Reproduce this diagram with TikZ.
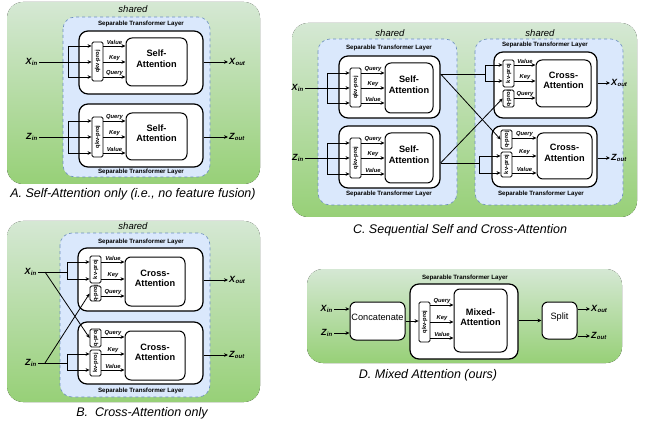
\documentclass[tikz,border=0pt]{standalone}
\usepackage{fontspec}
\setmainfont{Liberation Sans}
\usetikzlibrary{arrows.meta,fit}
\definecolor{gtop}{HTML}{D5E8D4}
\definecolor{gbot}{HTML}{97D077}
\definecolor{bfill}{HTML}{DAE8FC}
\definecolor{bdraw}{HTML}{6C8EBF}
\newcommand\xlab[2]{\textbf{\textit{#1}}\textsubscript{\textbf{\textit{#2}}}}
\tikzset{
  greenpanel/.style={rounded corners=16pt, top color=gtop, bottom color=gbot, draw=none},
  bluepanel/.style={rounded corners=12pt, fill=bfill, draw=bdraw, dashed, line width=0.6pt},
  layerbox/.style={draw, fill=white, line width=1.2pt, rounded corners=9pt, inner sep=0pt},
  attbox/.style={draw, fill=white, line width=1pt, rounded corners=6pt, inner sep=0pt, align=center, font=\bfseries\fontsize{9.2}{10.8}\selectfont},
  plainbox/.style={draw, fill=white, line width=1pt, rounded corners=6pt, inner sep=0pt, align=center, font=\fontsize{9.2}{10.8}\selectfont},
  projbox/.style={draw, fill=white, line width=0.8pt, rounded corners=1.5pt, inner sep=0pt},
  projtxt/.style={rotate=90, font=\bfseries\fontsize{5.8}{6}\selectfont, inner sep=0pt},
  arr/.style={-{Stealth[length=4pt,width=3.6pt]}, line width=0.8pt},
  ln/.style={line width=0.8pt},
  qkv/.style={font=\bfseries\itshape\fontsize{5.8}{6}\selectfont, inner sep=0.6pt, above},
  layertxt/.style={font=\bfseries\fontsize{6.2}{7}\selectfont, inner sep=0pt},
  sharedtxt/.style={font=\itshape\fontsize{9.5}{11}\selectfont, inner sep=0pt},
  captxt/.style={font=\itshape\fontsize{12.5}{14}\selectfont, inner sep=0pt},
  iolab/.style={font=\fontsize{9}{10}\selectfont, inner sep=1pt},
}
\begin{document}
\begin{tikzpicture}[x=1pt,y=-1pt]
\useasboundingbox (0,0) rectangle (645,422);

%%%%%%%%%%%%%%%% Panel A
\fill[greenpanel] (7,2) rectangle (260,184);
\node[sharedtxt] (shA) at (133,9) {shared};
\draw[bluepanel] (63,17) rectangle (210,177);
\node[layertxt] (ltA1) at (141,24) {Separable Transformer Layer};
\node[layertxt] (ltA2) at (141,172) {Separable Transformer Layer};
\node[layerbox, fit={(79,31)(203,94)}] (LA1) {};
\node[layerbox, fit={(79,104)(203,167)}] (LA2) {};
% upper
\node[projbox, fit={(92,42)(103,81)}, label={[projtxt]center:qkv-proj}] (PA1) {};
\node[attbox, fit={(126,38)(187,86)}] (AA1) {Self-\\Attention};
\draw[arr] (PA1.east |- 0,46) -- node[qkv]{Value} (AA1.west |- 0,46);
\draw[arr] (PA1.east |- 0,62) -- node[qkv]{Key} (AA1.west |- 0,62);
\draw[arr] (PA1.east |- 0,77) -- node[qkv]{Query} (AA1.west |- 0,77);
\node[iolab, anchor=east] (XA) at (39,62) {\xlab{X}{in}};
\coordinate (bXA) at (68,62);
\draw[arr] (XA.east) -- (PA1.west |- XA.east);
\draw[arr] (bXA) |- (PA1.west |- 0,46);
\draw[arr] (bXA) |- (PA1.west |- 0,77);
\node[iolab, anchor=west] (XoA) at (228,62) {\xlab{X}{out}};
\draw[arr] (LA1.east |- XoA.west) -- (XoA.west);
% lower
\node[projbox, fit={(92,117)(103,157)}, label={[projtxt]center:qkv-proj}] (PA2) {};
\node[attbox, fit={(126,113)(187,160)}] (AA2) {Self-\\Attention};
\draw[arr] (PA2.east |- 0,121) -- node[qkv]{Query} (AA2.west |- 0,121);
\draw[arr] (PA2.east |- 0,137) -- node[qkv]{Key} (AA2.west |- 0,137);
\draw[arr] (PA2.east |- 0,153) -- node[qkv]{Value} (AA2.west |- 0,153);
\node[iolab, anchor=east] (ZA) at (39,137) {\xlab{Z}{in}};
\coordinate (bZA) at (68,137);
\draw[arr] (ZA.east) -- (PA2.west |- ZA.east);
\draw[arr] (bZA) |- (PA2.west |- 0,121);
\draw[arr] (bZA) |- (PA2.west |- 0,153);
\node[iolab, anchor=west] (ZoA) at (228,137) {\xlab{Z}{out}};
\draw[arr] (LA2.east |- ZoA.west) -- (ZoA.west);
\node[captxt] (capA) at (133,194) {A. Self-Attention only (i.e., no feature fusion)};

%%%%%%%%%%%%%%%% Panel B
\fill[greenpanel] (7,221) rectangle (260,402);
\node[sharedtxt] (shB) at (133,226) {shared};
\draw[bluepanel] (60,233) rectangle (210,397);
\node[layertxt] (ltB1) at (141,242) {Separable Transformer Layer};
\node[layertxt] (ltB2) at (141,391) {Separable Transformer Layer};
\node[layerbox, fit={(78,248)(203,311)}] (LB1) {};
\node[layerbox, fit={(78,322)(203,384)}] (LB2) {};
% upper
\node[projbox, fit={(90,256)(101,283)}, label={[projtxt]center:kv-proj}] (KVB1) {};
\node[projbox, fit={(90,286)(101,301)}, label={[projtxt]center:q-proj}] (QB1) {};
\node[attbox, fit={(125,257)(185,306)}] (AB1) {Cross-\\Attention};
\draw[arr] (KVB1.east |- 0,262) -- node[qkv]{Value} (AB1.west |- 0,262);
\draw[arr] (KVB1.east |- 0,279) -- node[qkv]{Key} (AB1.west |- 0,279);
\draw[arr] (QB1.east |- 0,296) -- node[qkv]{Query} (AB1.west |- 0,296);
% lower
\node[projbox, fit={(90,329)(101,347)}, label={[projtxt]center:q-proj}] (QB2) {};
\node[projbox, fit={(90,350)(101,376)}, label={[projtxt]center:kv-proj}] (KVB2) {};
\node[attbox, fit={(125,331)(185,380)}] (AB2) {Cross-\\Attention};
\draw[arr] (QB2.east |- 0,337) -- node[qkv]{Query} (AB2.west |- 0,337);
\draw[arr] (KVB2.east |- 0,354) -- node[qkv]{Key} (AB2.west |- 0,354);
\draw[arr] (KVB2.east |- 0,370) -- node[qkv]{Value} (AB2.west |- 0,370);
% inputs
\node[iolab, anchor=east] (XB) at (38,272) {\xlab{X}{in}};
\coordinate (jXB) at (45,272);
\coordinate (bXB) at (67,272);
\draw[ln] (XB.east) -- (bXB);
\draw[arr] (bXB) |- (KVB1.west |- 0,262);
\draw[arr] (bXB) |- (KVB1.west |- 0,279);
\draw[arr] (jXB) -- (QB2.west);
\node[iolab, anchor=east] (ZB) at (38,363) {\xlab{Z}{in}};
\coordinate (jZB) at (45,363);
\coordinate (bZB) at (67,363);
\draw[ln] (ZB.east) -- (bZB);
\draw[arr] (bZB) |- (KVB2.west |- 0,354);
\draw[arr] (bZB) |- (KVB2.west |- 0,370);
\draw[arr] (jZB) -- (QB1.west);
\node[iolab, anchor=west] (XoB) at (228,280) {\xlab{X}{out}};
\draw[arr] (LB1.east |- XoB.west) -- (XoB.west);
\node[iolab, anchor=west] (ZoB) at (228,355) {\xlab{Z}{out}};
\draw[arr] (LB2.east |- ZoB.west) -- (ZoB.west);
\node[captxt] (capB) at (142,413) {B.\ \ Cross-Attention only};

%%%%%%%%%%%%%%%% Panel C
\fill[greenpanel] (292,23) rectangle (637,217);
\node[sharedtxt] (shC1) at (390,33) {shared};
\node[sharedtxt] (shC2) at (540,33) {shared};
\draw[bluepanel] (318,39) rectangle (457,205);
\draw[bluepanel] (475,39) rectangle (623,205);
\node[layertxt] (ltC1) at (389,48) {Separable Transformer Layer};
\node[layertxt] (ltC2) at (389,194) {Separable Transformer Layer};
\node[layertxt] (ltC3) at (545,45) {Separable Transformer Layer};
\node[layertxt] (ltC4) at (541,194) {Separable Transformer Layer};
\node[layerbox, fit={(339,56)(440,118)}] (LC1) {};
\node[layerbox, fit={(339,126)(440,188)}] (LC2) {};
\node[layerbox, fit={(494,52)(597,118)}] (RC1) {};
\node[layerbox, fit={(492,126)(597,187)}] (RC2) {};
% left upper
\node[projbox, fit={(350,68)(361,107)}, label={[projtxt]center:qkv-proj}] (PC1) {};
\node[attbox, fit={(385,63)(433,113)}] (AC1) {Self-\\Attention};
\draw[arr] (PC1.east |- 0,73) -- node[qkv]{Query} (AC1.west |- 0,73);
\draw[arr] (PC1.east |- 0,88) -- node[qkv]{Key} (AC1.west |- 0,88);
\draw[arr] (PC1.east |- 0,103) -- node[qkv]{Value} (AC1.west |- 0,103);
\node[iolab, anchor=east] (XC) at (305,88) {\xlab{X}{in}};
\coordinate (bXC) at (327,88);
\draw[arr] (XC.east) -- (PC1.west |- XC.east);
\draw[arr] (bXC) |- (PC1.west |- 0,73);
\draw[arr] (bXC) |- (PC1.west |- 0,103);
% left lower
\node[projbox, fit={(350,138)(361,178)}, label={[projtxt]center:qkv-proj}] (PC2) {};
\node[attbox, fit={(385,133)(433,183)}] (AC2) {Self-\\Attention};
\draw[arr] (PC2.east |- 0,143) -- node[qkv]{Query} (AC2.west |- 0,143);
\draw[arr] (PC2.east |- 0,158) -- node[qkv]{Key} (AC2.west |- 0,158);
\draw[arr] (PC2.east |- 0,174) -- node[qkv]{Value} (AC2.west |- 0,174);
\node[iolab, anchor=east] (ZC) at (305,158) {\xlab{Z}{in}};
\coordinate (bZC) at (327,158);
\draw[arr] (ZC.east) -- (PC2.west |- ZC.east);
\draw[arr] (bZC) |- (PC2.west |- 0,143);
\draw[arr] (bZC) |- (PC2.west |- 0,174);
% right upper
\node[projbox, fit={(503,60)(514,87)}, label={[projtxt]center:kv-proj}] (KVC1) {};
\node[projbox, fit={(503,90)(514,107)}, label={[projtxt]center:q-proj}] (QC1) {};
\node[attbox, fit={(536,60)(591,107)}] (CC1) {Cross-\\Attention};
\draw[arr] (KVC1.east |- 0,65) -- node[qkv]{Value} (CC1.west |- 0,65);
\draw[arr] (KVC1.east |- 0,81) -- node[qkv]{Key} (CC1.west |- 0,81);
\draw[arr] (QC1.east |- 0,98) -- node[qkv]{Query} (CC1.west |- 0,98);
% right lower
\node[projbox, fit={(501,130)(512,149)}, label={[projtxt]center:q-proj}] (QC2) {};
\node[projbox, fit={(501,152)(512,177)}, label={[projtxt]center:kv-proj}] (KVC2) {};
\node[attbox, fit={(537,133)(592,179)}] (CC2) {Cross-\\Attention};
\draw[arr] (QC2.east |- 0,138) -- node[qkv]{Query} (CC2.west |- 0,138);
\draw[arr] (KVC2.east |- 0,156) -- node[qkv]{Key} (CC2.west |- 0,156);
\draw[arr] (KVC2.east |- 0,173) -- node[qkv]{Value} (CC2.west |- 0,173);
% cross connections
\coordinate (oC1) at (LC1.east |- 0,74);
\coordinate (oC2) at (LC2.east |- 0,163);
\coordinate (bC1) at (485,74);
\coordinate (bC2) at (479,163);
\draw[ln] (oC1) -- (bC1);
\draw[arr] (bC1) |- (KVC1.west |- 0,65);
\draw[arr] (bC1) |- (KVC1.west |- 0,81);
\draw[arr] (oC1) -- (QC2.west);
\draw[arr] (oC2) -- (QC1.west);
\draw[ln] (oC2) -- (bC2);
\draw[arr] (bC2) |- (KVC2.west |- 0,156);
\draw[arr] (bC2) |- (KVC2.west |- 0,173);
\node[iolab, anchor=west] (XoC) at (610,83) {\xlab{X}{out}};
\draw[arr] (RC1.east |- XoC.west) -- (XoC.west);
\node[iolab, anchor=west] (ZoC) at (610,158) {\xlab{Z}{out}};
\draw[arr] (RC2.east |- ZoC.west) -- (ZoC.west);
\node[captxt] (capC) at (460,230) {C. Sequential Self and Cross-Attention};

%%%%%%%%%%%%%%%% Panel D
\fill[greenpanel] (307,269) rectangle (622,363);
\node[layertxt] (ltD) at (465,278) {Separable Transformer Layer};
\node[layerbox, fit={(410,284)(518,359)}] (LD) {};
\node[plainbox, fit={(350,302)(405,340)}] (CD) {Concatenate};
\node[plainbox, fit={(542,302)(577,339)}] (SD) {Split};
\node[projbox, fit={(419,302)(430,342)}, label={[projtxt]center:qkv-proj}] (PD) {};
\node[attbox, fit={(454,289)(507,352)}] (AD) {Mixed-\\Attention};
\draw[arr] (PD.east |- 0,305) -- node[qkv]{Query} (AD.west |- 0,305);
\draw[arr] (PD.east |- 0,322) -- node[qkv]{Key} (AD.west |- 0,322);
\draw[arr] (PD.east |- 0,338) -- node[qkv]{Value} (AD.west |- 0,338);
\node[iolab, anchor=east] (XD) at (334,309) {\xlab{X}{in}};
\node[iolab, anchor=east] (ZD) at (334,333) {\xlab{Z}{in}};
\draw[arr] (XD.east) -- (CD.west |- XD.east);
\draw[arr] (ZD.east) -- (CD.west |- ZD.east);
\draw[arr] (CD.east) -- (PD.west |- CD.east);
\draw[arr] (LD.east |- SD.west) -- (SD.west);
\node[iolab, anchor=west] (XoD) at (590,309) {\xlab{X}{out}};
\node[iolab, anchor=west] (ZoD) at (590,336) {\xlab{Z}{out}};
\draw[arr] (SD.east |- XoD.west) -- (XoD.west);
\draw[arr] (SD.east |- ZoD.west) -- (ZoD.west);
\node[captxt] (capD) at (428,375) {D. Mixed Attention (ours)};
\end{tikzpicture}
\end{document}
